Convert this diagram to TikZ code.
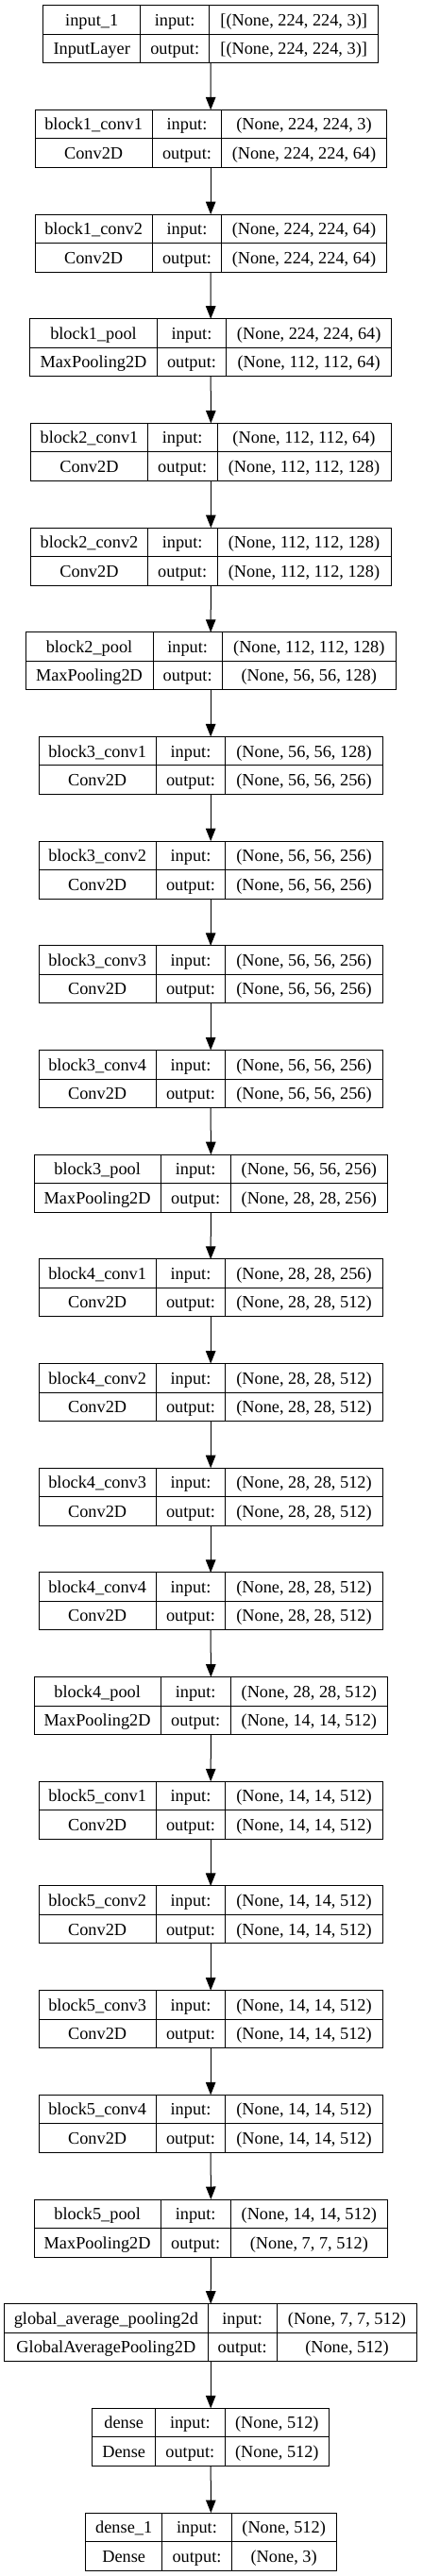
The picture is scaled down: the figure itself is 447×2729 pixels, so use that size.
\documentclass[tikz,border=0pt]{standalone}
\usepackage{fontspec}
\setmainfont{Liberation Serif}
\usetikzlibrary{arrows.meta}
\tikzset{
 layerbox/.style={draw=black, line width=1pt, inner sep=0pt, outer sep=0pt, anchor=north west},
 cellline/.style={draw=black, line width=1pt},
 celltext/.style={inner sep=0pt, anchor=base, font=\fontsize{18.3}{22}\selectfont},
 flow/.style={draw=black, line width=1pt, -{Triangle[length=13.5pt,width=10.5pt]}},
}
\newcommand\geom[4]{\def\gL{#1}\def\gA{#2}\def\gB{#3}\def\gR{#4}}
\newcommand\klayer[6]{%
 \pgfmathsetmacro\gT{5.7+#2*110.68}%
 \pgfmathsetmacro\gM{\gT+30.5}%
 \pgfmathsetmacro\gD{\gT+61}%
 \pgfmathsetmacro\gW{\gR-\gL}%
 \pgfmathsetmacro\xa{(\gL+\gA)/2}%
 \pgfmathsetmacro\xb{(\gA+\gB)/2}%
 \pgfmathsetmacro\xc{(\gB+\gR)/2}%
 \pgfmathsetmacro\ya{\gT+15.25+6.3}%
 \pgfmathsetmacro\yb{\gM+15.25+6.3}%
 \node[layerbox, minimum width=\gW pt, minimum height=61pt] (#1) at (\gL,\gT) {};
 \draw[cellline] (\gL,\gM) -- (\gR,\gM) (\gA,\gT) -- (\gA,\gD) (\gB,\gT) -- (\gB,\gD);
 \node[celltext] (#1-name) at (\xa,\ya) {#3};
 \node[celltext] (#1-type) at (\xa,\yb) {#4};
 \node[celltext] (#1-inl) at (\xb,\ya) {input:};
 \node[celltext] (#1-outl) at (\xb,\yb) {output:};
 \node[celltext] (#1-in) at (\xc,\ya) {#5};
 \node[celltext] (#1-out) at (\xc,\yb) {#6};
}
\begin{document}
\begin{tikzpicture}[x=1pt,y=-1pt]
\fill[white] (0,0) rectangle (447,2729);
\useasboundingbox (0,0) rectangle (447,2729);
\geom{45.7}{148.7}{221.7}{400.7}
\klayer{inp}{0}{input\_1}{InputLayer}{[(None, 224, 224, 3)]}{[(None, 224, 224, 3)]}
\geom{37}{161.3}{234.7}{409.3}
\klayer{bac}{1}{block1\_conv1}{Conv2D}{(None, 224, 224, 3)}{(None, 224, 224, 64)}
\klayer{bad}{2}{block1\_conv2}{Conv2D}{(None, 224, 224, 64)}{(None, 224, 224, 64)}
\geom{31.7}{166.3}{239.7}{414.7}
\klayer{bap}{3}{block1\_pool}{MaxPooling2D}{(None, 224, 224, 64)}{(None, 112, 112, 64)}
\geom{32.7}{156.3}{230}{414}
\klayer{bbc}{4}{block2\_conv1}{Conv2D}{(None, 112, 112, 64)}{(None, 112, 112, 128)}
\klayer{bbd}{5}{block2\_conv2}{Conv2D}{(None, 112, 112, 128)}{(None, 112, 112, 128)}
\geom{27}{162}{235.3}{419.3}
\klayer{bbp}{6}{block2\_pool}{MaxPooling2D}{(None, 112, 112, 128)}{(None, 56, 56, 128)}
\geom{41}{165.3}{238.7}{405.3}
\klayer{bcc}{7}{block3\_conv1}{Conv2D}{(None, 56, 56, 128)}{(None, 56, 56, 256)}
\klayer{bcd}{8}{block3\_conv2}{Conv2D}{(None, 56, 56, 256)}{(None, 56, 56, 256)}
\klayer{bce}{9}{block3\_conv3}{Conv2D}{(None, 56, 56, 256)}{(None, 56, 56, 256)}
\klayer{bcf}{10}{block3\_conv4}{Conv2D}{(None, 56, 56, 256)}{(None, 56, 56, 256)}
\geom{36}{170.3}{244}{410.7}
\klayer{bcp}{11}{block3\_pool}{MaxPooling2D}{(None, 56, 56, 256)}{(None, 28, 28, 256)}
\geom{41}{165.3}{238.7}{405.3}
\klayer{bdc}{12}{block4\_conv1}{Conv2D}{(None, 28, 28, 256)}{(None, 28, 28, 512)}
\klayer{bdd}{13}{block4\_conv2}{Conv2D}{(None, 28, 28, 512)}{(None, 28, 28, 512)}
\klayer{bde}{14}{block4\_conv3}{Conv2D}{(None, 28, 28, 512)}{(None, 28, 28, 512)}
\klayer{bdf}{15}{block4\_conv4}{Conv2D}{(None, 28, 28, 512)}{(None, 28, 28, 512)}
\geom{36}{170.3}{244}{410.7}
\klayer{bdp}{16}{block4\_pool}{MaxPooling2D}{(None, 28, 28, 512)}{(None, 14, 14, 512)}
\geom{41}{165.3}{238.7}{405.3}
\klayer{bec}{17}{block5\_conv1}{Conv2D}{(None, 14, 14, 512)}{(None, 14, 14, 512)}
\klayer{bed}{18}{block5\_conv2}{Conv2D}{(None, 14, 14, 512)}{(None, 14, 14, 512)}
\klayer{bee}{19}{block5\_conv3}{Conv2D}{(None, 14, 14, 512)}{(None, 14, 14, 512)}
\klayer{bef}{20}{block5\_conv4}{Conv2D}{(None, 14, 14, 512)}{(None, 14, 14, 512)}
\geom{36}{170.3}{244}{410.7}
\klayer{bep}{21}{block5\_pool}{MaxPooling2D}{(None, 14, 14, 512)}{(None, 7, 7, 512)}
\geom{4.7}{220}{293.3}{441.7}
\klayer{gap}{22}{global\_average\_pooling2d}{GlobalAveragePooling2D}{(None, 7, 7, 512)}{(None, 512)}
\geom{97.7}{164.7}{238}{348.7}
\klayer{dns}{23}{dense}{Dense}{(None, 512)}{(None, 512)}
\geom{90.7}{171.7}{245.3}{356}
\klayer{dno}{24}{dense\_1}{Dense}{(None, 512)}{(None, 3)}
\foreach \a/\b in {inp/bac,bac/bad,bad/bap,bap/bbc,bbc/bbd,bbd/bbp,bbp/bcc,bcc/bcd,bcd/bce,bce/bcf,bcf/bcp,bcp/bdc,bdc/bdd,bdd/bde,bde/bdf,bdf/bdp,bdp/bec,bec/bed,bed/bee,bee/bef,bef/bep,bep/gap,gap/dns,dns/dno}
 \draw[flow] (\a.south) -- (\b.north);
\end{tikzpicture}
\end{document}
